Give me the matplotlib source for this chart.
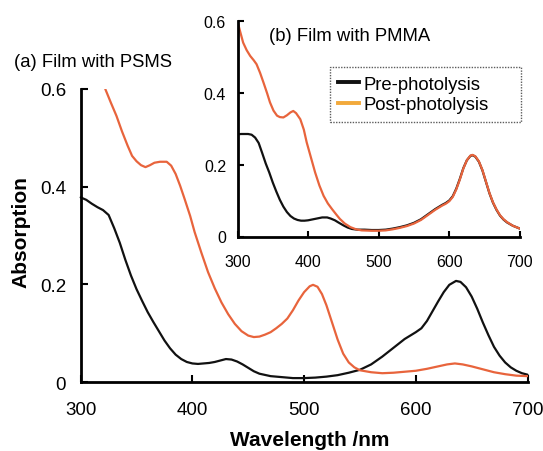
import matplotlib
matplotlib.use("Agg")
import matplotlib.pyplot as plt
from matplotlib.lines import Line2D

plt.rcParams['font.family'] = ['Liberation Sans', 'DejaVu Sans']

# ---------------- data ----------------
# (a) Film with PSMS (main axes)
wl_a_pre = [300, 305, 310, 315, 320, 325, 330, 335, 340, 345, 350, 355, 360, 365, 370, 375,
            380, 385, 390, 395, 400, 405, 410, 415, 420, 425, 430, 435, 440, 445, 450, 455,
            460, 470, 480, 490, 500, 510, 520, 530, 540, 550, 560, 570, 580, 590, 595, 600,
            605, 610, 615, 620, 625, 630, 636, 640, 645, 650, 655, 660, 665, 670, 675, 680,
            685, 690, 695, 700]
abs_a_pre = [0.378, 0.373, 0.365, 0.358, 0.352, 0.342, 0.315, 0.285, 0.250, 0.218, 0.190,
             0.166, 0.143, 0.123, 0.104, 0.085, 0.069, 0.056, 0.047, 0.041, 0.038, 0.037,
             0.038, 0.039, 0.041, 0.044, 0.047, 0.046, 0.042, 0.036, 0.029, 0.022, 0.017,
             0.012, 0.010, 0.008, 0.008, 0.009, 0.011, 0.014, 0.019, 0.025, 0.036, 0.052,
             0.070, 0.088, 0.095, 0.102, 0.110, 0.125, 0.145, 0.165, 0.184, 0.199, 0.207,
             0.205, 0.194, 0.175, 0.150, 0.122, 0.096, 0.072, 0.054, 0.040, 0.030, 0.023,
             0.018, 0.015]

wl_a_post = [322, 327, 332, 337, 342, 346, 350, 354, 358, 362, 366, 371, 377, 381, 385, 389,
             393, 398, 402, 408, 414, 420, 426, 432, 438, 444, 450, 455, 460, 465, 470, 475,
             480, 485, 490, 495, 500, 505, 508, 512, 516, 520, 525, 530, 535, 540, 545, 550,
             560, 570, 580, 590, 600, 610, 620, 628, 635, 642, 650, 660, 670, 680, 690, 700]
abs_a_post = [0.600, 0.572, 0.545, 0.513, 0.484, 0.463, 0.452, 0.444, 0.440, 0.444, 0.449,
              0.451, 0.451, 0.443, 0.426, 0.402, 0.375, 0.340, 0.307, 0.265, 0.225, 0.192,
              0.163, 0.139, 0.119, 0.104, 0.095, 0.092, 0.093, 0.097, 0.102, 0.110, 0.119,
              0.130, 0.147, 0.167, 0.184, 0.196, 0.199, 0.195, 0.180, 0.157, 0.122, 0.087,
              0.058, 0.040, 0.030, 0.024, 0.020, 0.018, 0.019, 0.021, 0.023, 0.027, 0.032,
              0.036, 0.038, 0.036, 0.032, 0.026, 0.020, 0.016, 0.013, 0.012]

# (b) Film with PMMA (inset)
wl_b_pre = [300, 305, 315, 320, 325, 330, 335, 340, 345, 350, 355, 360, 365, 370, 375, 380,
            385, 390, 395, 400, 405, 410, 415, 420, 427, 432, 438, 443, 450, 456, 462, 470,
            480, 490, 500, 510, 520, 530, 540, 550, 560, 570, 580, 590, 595, 600, 605, 610,
            615, 620, 625, 630, 633, 637, 642, 647, 652, 657, 662, 667, 672, 677, 682, 690, 700]
abs_b_pre = [0.284, 0.285, 0.285, 0.283, 0.275, 0.260, 0.232, 0.203, 0.178, 0.150, 0.125,
             0.102, 0.083, 0.068, 0.057, 0.050, 0.046, 0.044, 0.044, 0.045, 0.047, 0.049,
             0.051, 0.053, 0.053, 0.050, 0.045, 0.039, 0.031, 0.025, 0.021, 0.019, 0.019,
             0.018, 0.018, 0.019, 0.022, 0.026, 0.031, 0.038, 0.048, 0.062, 0.076, 0.088,
             0.093, 0.100, 0.112, 0.133, 0.160, 0.190, 0.212, 0.224, 0.226, 0.222, 0.208,
             0.184, 0.152, 0.120, 0.094, 0.074, 0.058, 0.047, 0.039, 0.030, 0.022]

wl_b_post = [300, 304, 308, 313, 318, 323, 327, 332, 337, 342, 346, 351, 356, 360, 365, 370,
             375, 379, 383, 389, 394, 398, 404, 410, 416, 422, 428, 434, 440, 445, 452, 460,
             468, 476, 490, 500, 510, 520, 530, 540, 550, 560, 570, 580, 590, 595, 600, 605,
             610, 615, 620, 625, 630, 633, 637, 642, 647, 652, 657, 662, 667, 672, 677, 682,
             690, 700]
abs_b_post = [0.598, 0.568, 0.539, 0.518, 0.502, 0.490, 0.479, 0.455, 0.427, 0.398, 0.373,
              0.350, 0.336, 0.332, 0.331, 0.337, 0.345, 0.349, 0.343, 0.326, 0.297, 0.262,
              0.220, 0.178, 0.142, 0.113, 0.092, 0.076, 0.061, 0.049, 0.036, 0.026, 0.020,
              0.017, 0.016, 0.016, 0.017, 0.020, 0.024, 0.029, 0.036, 0.046, 0.060, 0.074,
              0.086, 0.091, 0.098, 0.110, 0.131, 0.158, 0.189, 0.212, 0.225, 0.227, 0.223,
              0.209, 0.185, 0.153, 0.121, 0.095, 0.075, 0.059, 0.048, 0.040, 0.030, 0.022]

x_ticks = [300, 400, 500, 600, 700]
y_ticks = [0, 0.2, 0.4, 0.6]
y_ticklabels = ['0', '0.2', '0.4', '0.6']
series_labels = ['Pre-photolysis', 'Post-photolysis']

# ---------------- styles ----------------
c_pre = '#111111'
c_post = '#E8643C'
c_post_legend = '#F2A93B'

W, H = 543, 452
fig = plt.figure(figsize=(W / 100, H / 100), dpi=100)

def style_axes(ax, tick_size, xpad, ypad, ticklen):
    ax.set_xlim(300, 700)
    ax.set_ylim(0, 0.6)
    ax.set_xticks(x_ticks)
    ax.set_yticks(y_ticks)
    ax.set_yticklabels(y_ticklabels)
    for s in ['top', 'right']:
        ax.spines[s].set_visible(False)
    for s in ['left', 'bottom']:
        ax.spines[s].set_linewidth(2.0)
        ax.spines[s].set_color('#000000')
    ax.tick_params(direction='in', length=ticklen, width=1.5, labelsize=tick_size)
    ax.tick_params(axis='x', pad=xpad)
    ax.tick_params(axis='y', pad=ypad)
    ax.patch.set_alpha(0)

line_kw = dict(lw=1.6, solid_joinstyle='round', solid_capstyle='round')

# main axes
ax = fig.add_axes([80.7 / W, 1 - 383 / H, (527.5 - 80.7) / W, (383 - 90) / H])
style_axes(ax, 13.5, 14.0, 10.5, 5)
ax.plot(wl_a_pre, abs_a_pre, color=c_pre, clip_on=False, **line_kw)
ax.plot(wl_a_post, abs_a_post, color=c_post, **line_kw)

# inset axes
axi = fig.add_axes([237.5 / W, 1 - 237.5 / H, (519.8 - 237.5) / W, (237.5 - 21.7) / H])
style_axes(axi, 11.5, 12.3, 8.2, 4.5)
axi.plot(wl_b_pre, abs_b_pre, color=c_pre, **line_kw)
axi.plot(wl_b_post, abs_b_post, color=c_post, **line_kw)

# texts
fig.text(13.9 / W, 1 - 63 / H, '(a) Film with PSMS', fontsize=13.3, ha='left', va='center')
fig.text(269.3 / W, 1 - 36.5 / H, '(b) Film with PMMA', fontsize=13.3, ha='left', va='center')
fig.text(310 / W, 1 - 441 / H, 'Wavelength /nm', fontsize=15, fontweight='bold',
         ha='center', va='center')
fig.text(20.8 / W, 1 - 231.7 / H, 'Absorption', fontsize=15, fontweight='bold',
         ha='center', va='center', rotation=90)

# legend
handles = [Line2D([], [], color=c_pre, lw=2.8), Line2D([], [], color=c_post_legend, lw=2.8)]
leg = fig.legend(handles, series_labels, loc='upper left',
                 bbox_to_anchor=(330 / W, 1 - 68.3 / H, (521 - 330) / W, 0.0),
                 mode='expand', fontsize=13.3, frameon=True, fancybox=False,
                 handlelength=1.1, handletextpad=0.25, borderpad=0.45,
                 labelspacing=0.2, borderaxespad=0)
fr = leg.get_frame()
fr.set_linestyle((0, (1, 1)))
fr.set_linewidth(1.0)
fr.set_edgecolor('#333333')

fig.savefig('out.png', dpi=100)
